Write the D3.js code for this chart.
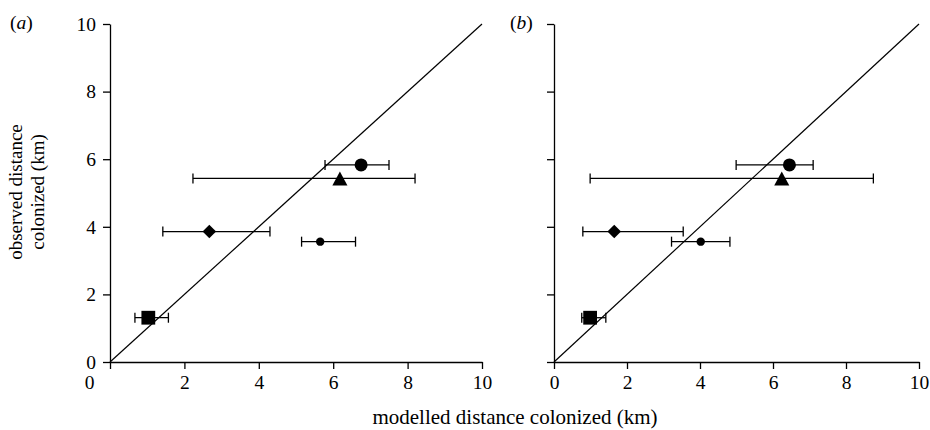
<!DOCTYPE html>
<html>
<head>
<meta charset="utf-8">
<script src="https://cdn.jsdelivr.net/npm/d3@7"></script>
<style>
  html, body { margin: 0; padding: 0; background: #fff; }
  svg { display: block; }
  svg text { font-family: "Liberation Serif", "Times New Roman", Tinos, "DejaVu Serif", "Noto Serif", serif !important; fill: #000; }
</style>
</head>
<body>
<svg id="chart" width="930" height="430"></svg>
<script>
// ---------- data ----------
const markers = ["square", "diamond", "smallCircle", "largeCircle", "triangle"];
const observedY = [1.31, 3.86, 3.56, 5.83, 5.43];
const modelA = [1.03, 2.67, 5.65, 6.75, 6.18];
const modelALow = [0.67, 1.42, 5.15, 5.78, 2.23];
const modelAHigh = [1.57, 4.30, 6.60, 7.50, 8.20];
const modelB = [0.99, 1.65, 4.02, 6.45, 6.24];
const modelBLow = [0.76, 0.79, 3.22, 4.99, 0.99];
const modelBHigh = [1.42, 3.54, 4.82, 7.10, 8.75];
const tickValues = [0, 2, 4, 6, 8, 10];
const panelLabels = ["a", "b"];

// ---------- layout ----------
const FONT = '"Liberation Serif", "Times New Roman", Tinos, "DejaVu Serif", serif';
const svg = d3.select("#chart").attr("font-family", FONT);
const yScale = d3.scaleLinear().domain([0, 10]).range([362, 24]);
const panels = [
  { label: panelLabels[0], x: modelA, lo: modelALow, hi: modelAHigh, range: [110, 482], showY: true, labelX: 10 },
  { label: panelLabels[1], x: modelB, lo: modelBLow, hi: modelBHigh, range: [554, 919], showY: false, labelX: 510 }
];

const symbolFor = {
  square: { type: d3.symbolSquare, size: 190, rot: 0 },
  diamond: { type: d3.symbolSquare, size: 92, rot: 45 },
  smallCircle: { type: d3.symbolCircle, size: Math.PI * 4.2 * 4.2, rot: 0 },
  largeCircle: { type: d3.symbolCircle, size: Math.PI * 6.5 * 6.5, rot: 0 },
  triangle: {
    type: { draw(ctx, size) { const w = Math.sqrt(size); ctx.moveTo(0, -w * 0.48); ctx.lineTo(w * 0.52, w * 0.48); ctx.lineTo(-w * 0.52, w * 0.48); ctx.closePath(); } },
    size: 210, rot: 0
  }
};

panels.forEach((p, pi) => {
  const x = d3.scaleLinear().domain([0, 10]).range(p.range);
  const g = svg.append("g");

  // x axis
  const xAxis = g.append("g")
    .attr("transform", `translate(0,${yScale(0)})`)
    .call(d3.axisBottom(x).tickValues(tickValues).tickSizeOuter(0).tickSizeInner(7).tickPadding(6))
    .attr("font-family", FONT).attr("font-size", 19.5);
  if (pi === 0) {
    xAxis.selectAll(".tick").filter(d => d === 0).select("text").attr("dx", -21);
  }

  // y axis
  const yAxis = g.append("g")
    .attr("transform", `translate(${x(0)},0)`)
    .call(d3.axisLeft(yScale).tickValues(tickValues).tickSizeOuter(0).tickSizeInner(7).tickPadding(7)
      .tickFormat(p.showY ? d3.format("d") : () => ""))
    .attr("font-family", FONT).attr("font-size", 19.5);
  g.selectAll(".domain, .tick line").attr("stroke", "#000").attr("stroke-width", 1.3);

  // diagonal 1:1 line
  g.append("line")
    .attr("x1", x(0)).attr("y1", yScale(0))
    .attr("x2", x(10)).attr("y2", yScale(10))
    .attr("stroke", "#000").attr("stroke-width", 1.2);

  // error bars
  const rows = markers.map((m, i) => ({ m, x: p.x[i], y: observedY[i], lo: p.lo[i], hi: p.hi[i] }));
  const eb = g.append("g").selectAll("g").data(rows).join("g");
  eb.append("line")
    .attr("x1", d => x(d.lo)).attr("x2", d => x(d.hi))
    .attr("y1", d => yScale(d.y)).attr("y2", d => yScale(d.y))
    .attr("stroke", "#000").attr("stroke-width", 1.3);
  [d => d.lo, d => d.hi].forEach(acc => {
    eb.append("line")
      .attr("x1", d => x(acc(d))).attr("x2", d => x(acc(d)))
      .attr("y1", d => yScale(d.y) - 5).attr("y2", d => yScale(d.y) + 5)
      .attr("stroke", "#000").attr("stroke-width", 1.3);
  });

  // markers
  g.append("g").selectAll("path").data(rows).join("path")
    .attr("d", d => d3.symbol().type(symbolFor[d.m].type).size(symbolFor[d.m].size)())
    .attr("transform", d => `translate(${x(d.x)},${yScale(d.y)}) rotate(${symbolFor[d.m].rot})`)
    .attr("fill", "#000");

  // panel label
  const t = svg.append("text").attr("x", p.labelX).attr("y", 29).attr("font-size", 19.5);
  t.append("tspan").text("(");
  t.append("tspan").attr("font-style", "italic").text(p.label);
  t.append("tspan").text(")");
});

// axis titles
svg.append("text")
  .attr("x", 515).attr("y", 424)
  .attr("text-anchor", "middle")
  .attr("font-size", 21)
  .text("modelled distance colonized (km)");

const yt = svg.append("text")
  .attr("transform", "translate(22,192) rotate(-90)")
  .attr("text-anchor", "middle")
  .attr("font-size", 19);
yt.append("tspan").attr("x", 0).attr("dy", 0).text("observed distance");
yt.append("tspan").attr("x", 0).attr("dy", 22).text("colonized (km)");
</script>
</body>
</html>
